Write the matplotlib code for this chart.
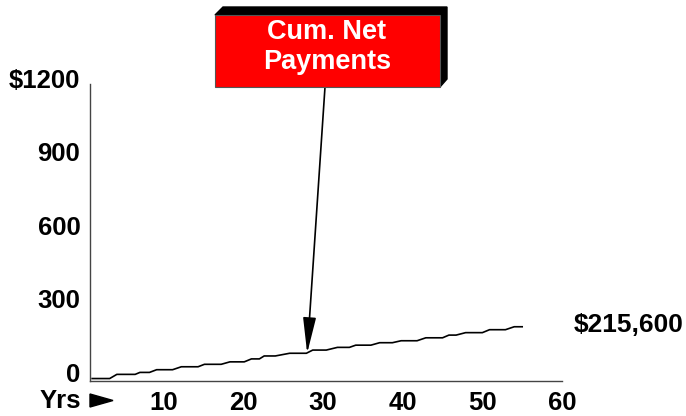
import matplotlib
matplotlib.use("Agg")
import matplotlib.pyplot as plt
import matplotlib.transforms as mtransforms
from matplotlib.patches import Polygon, Rectangle

# cumulative net payments ($ thousands), stair corners
years = [1, 3.2, 4.1, 6.4, 7.0, 8.2, 9.1, 11.1, 12.2, 14.3, 15.1, 17.2, 18.3, 20.1,
         21.0, 22.0, 22.6, 24.0, 25.8, 27.9, 28.7, 30.4, 31.8, 33.3, 34.1, 36.0,
         37.1, 38.7, 39.8, 41.8, 42.9, 45.0, 45.8, 46.7, 47.9, 50.0, 50.9, 52.9,
         54.0, 55.0]
cum_pay = [0, 0, 17, 17, 25, 25, 36, 36, 48, 48, 58, 58, 68, 68,
           80, 80, 92, 92, 103, 103, 116, 116, 127, 127, 136, 136,
           146, 146, 154, 154, 166, 166, 177, 177, 187, 187, 199, 199,
           211, 211]

x_ticks = [10, 20, 30, 40, 50, 60]
y_ticks = [0, 300, 600, 900, 1200]
y_labels = ["0", "300", "600", "900", "$1200"]
arrow_at = (28, 103)
end_label = "$215,600"
box_text = "Cum. Net\nPayments"

plt.rcParams['font.family'] = ['Liberation Sans', 'DejaVu Sans']
plt.rcParams['font.weight'] = 'bold'

W, H = 686, 416
fig = plt.figure(figsize=(W / 100, H / 100), dpi=100)

def px(x, y):
    # pixel (top-left origin) -> figure fraction
    return x / W, 1 - y / H

ax = fig.add_axes([90 / W, 35 / H, 472 / W, 297 / H])
ax.plot(years, cum_pay, color='black', lw=1.2)
ax.set_xlim(0.73, 60)
ax.set_ylim(-10, 1200)

ax.set_xticks(x_ticks)
ax.set_xticklabels([str(t) for t in x_ticks])
ax.set_yticks(y_ticks)
ax.set_yticklabels(y_labels)
ax.tick_params(length=0, labelsize=18.5)
ax.tick_params(axis='x', pad=7)
ax.tick_params(axis='y', pad=7)
for lab in ax.get_xticklabels() + ax.get_yticklabels():
    lab.set_fontweight('bold')
shift = mtransforms.ScaledTranslation(0, 6 / 100, fig.dpi_scale_trans)
for lab in ax.get_yticklabels():
    lab.set_transform(lab.get_transform() + shift)

for s in ['top', 'right']:
    ax.spines[s].set_visible(False)
for s in ['left', 'bottom']:
    ax.spines[s].set_color('#444444')
    ax.spines[s].set_linewidth(1.0)

# "Yrs" label with a pointer triangle
fig.text(*px(40, 408), "Yrs", fontsize=18.5, fontweight='bold',
         ha='left', va='baseline')
pointer = Polygon([px(90, 394), px(90, 407), px(113, 400.5)], closed=True,
                  facecolor='black', edgecolor='black', transform=fig.transFigure)
fig.patches.append(pointer)

fig.text(*px(574, 325), end_label, fontsize=19, fontweight='bold',
         ha='left', va='center')

# red callout box with black extruded shadow
shadow = Polygon([px(215, 15), px(223, 7), px(447, 7), px(447, 79),
                  px(440, 87), px(440, 15)], closed=True,
                 facecolor='black', edgecolor='black', transform=fig.transFigure)
fig.patches.append(shadow)
x0, y0 = px(215, 87)
box = Rectangle((x0, y0), 225 / W, 72 / H, facecolor='#ff0000',
                edgecolor='#555555', lw=0.8, transform=fig.transFigure)
fig.patches.append(box)
fig.text(*px(327, 47), box_text, color='white', fontsize=19.5, fontweight='bold',
         ha='center', va='center', linespacing=1.2)

ax.annotate("", xy=arrow_at, xycoords='data',
            xytext=px(325, 87), textcoords='figure fraction',
            arrowprops=dict(arrowstyle='-|>,head_length=2.2,head_width=0.4',
                            mutation_scale=10, color='black', lw=1.2,
                            shrinkA=0, shrinkB=0))

fig.savefig("out.png", dpi=100)
